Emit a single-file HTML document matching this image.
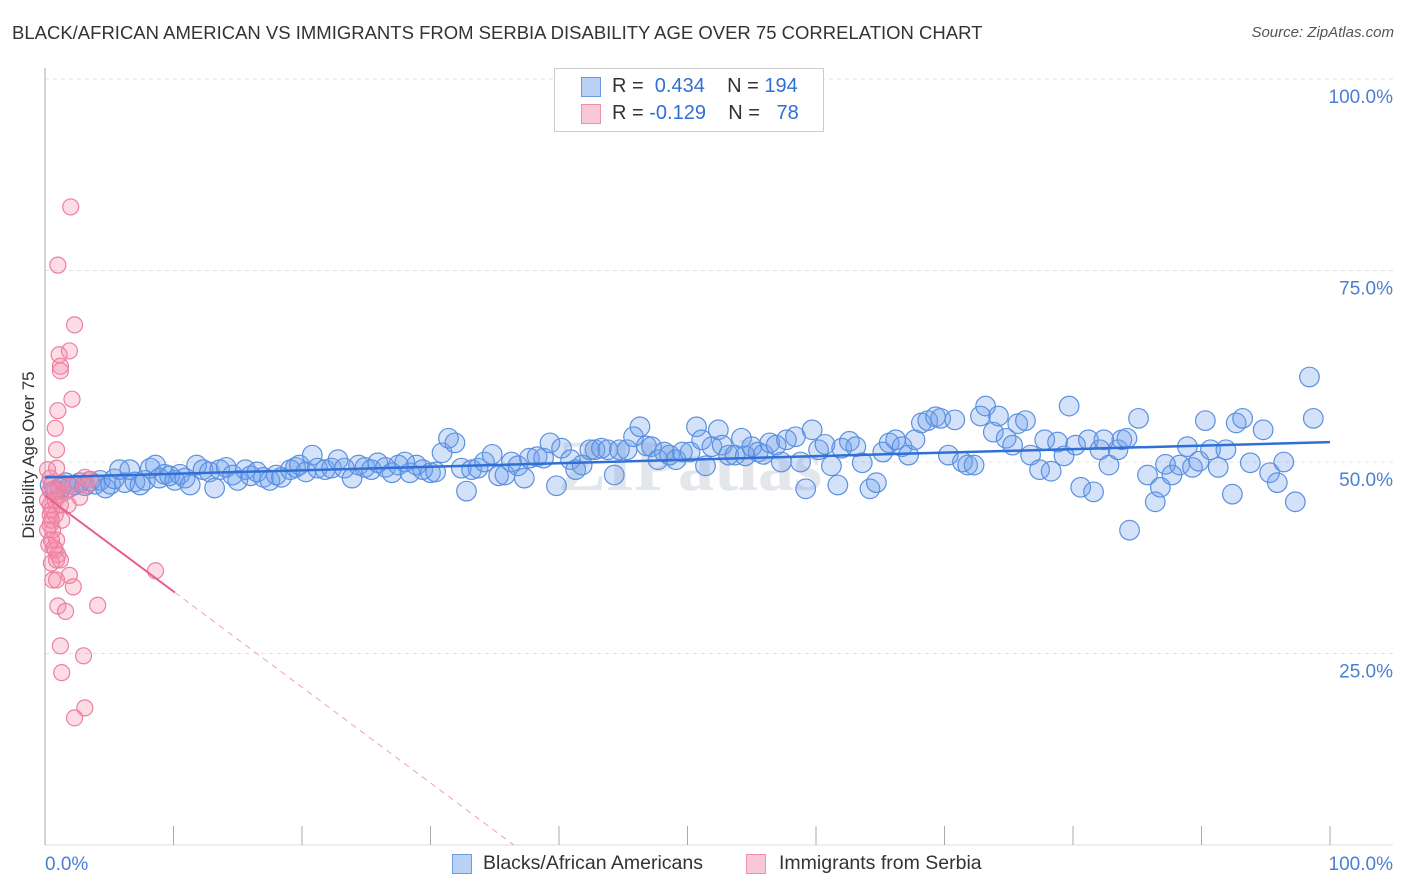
<!DOCTYPE html>
<html><head><meta charset="utf-8">
<style>
body{margin:0;background:#fff;font-family:"Liberation Sans",sans-serif;}
#wrap{position:relative;width:1406px;height:892px;overflow:hidden;}
.t{position:absolute;white-space:nowrap;}
</style></head>
<body>
<div id="wrap">
<div class="t" style="left:12px;top:22px;font-size:18.5px;color:#333;">BLACK/AFRICAN AMERICAN VS IMMIGRANTS FROM SERBIA DISABILITY AGE OVER 75 CORRELATION CHART</div>
<div class="t" style="right:12px;top:24px;font-size:15px;color:#555;font-style:italic;">Source: ZipAtlas.com</div>
<svg id="plot" width="1406" height="892" style="position:absolute;left:0;top:0"></svg>
</div>
<script>
const blueX=[0.4,0.8,1.2,1.6,1.9,2.3,2.7,3.1,3.5,3.9,4.3,4.7,5.1,5.4,5.8,6.2,6.6,7.0,7.4,7.8,8.2,8.6,8.9,9.3,9.7,10.1,10.5,10.9,11.3,11.8,12.3,12.8,13.2,13.6,14.1,14.6,15.0,15.6,16.0,16.5,17.0,17.5,18.0,18.4,19.1,19.5,19.8,20.3,20.8,21.2,21.8,22.3,22.8,23.3,23.9,24.4,24.9,25.4,25.9,26.5,27.0,27.5,28.0,28.4,28.9,29.4,30.0,30.4,30.9,31.4,31.9,32.4,32.8,33.2,33.7,34.2,34.8,35.3,35.8,36.3,36.8,37.3,37.7,38.3,38.8,39.3,39.8,40.2,40.9,41.3,41.8,42.4,42.8,43.3,43.8,44.3,44.7,45.3,45.8,46.3,46.8,47.2,47.7,48.2,48.6,49.1,49.6,50.2,50.7,51.1,51.4,51.9,52.4,52.7,53.2,53.7,54.2,54.5,55.0,55.5,55.9,56.4,56.9,57.3,57.7,58.4,58.8,59.2,59.7,60.2,60.7,61.2,61.7,62.0,62.6,63.1,63.6,64.2,64.7,65.2,65.7,66.2,66.7,67.2,67.7,68.2,68.7,69.3,69.7,70.3,70.8,71.4,71.8,72.3,72.8,73.2,73.8,74.2,74.8,75.3,75.7,76.3,76.7,77.4,77.8,78.3,78.8,79.3,79.7,80.2,80.6,81.2,81.6,82.1,82.4,82.8,83.5,83.8,84.2,84.4,85.1,85.8,86.4,86.8,87.2,87.7,88.3,88.9,89.3,89.8,90.3,90.7,91.3,91.9,92.4,92.7,93.2,93.8,94.8,95.3,95.9,96.4,97.3,98.4,98.7];
const blueY=[47.0,46.3,46.6,47.3,46.7,47.0,47.3,46.9,47.5,47.1,47.6,46.6,47.1,47.8,49.0,47.3,49.0,47.4,47.0,47.6,49.2,49.6,47.9,48.4,48.2,47.6,48.4,47.9,47.0,49.6,49.0,48.7,46.6,49.0,49.3,48.3,47.6,49.0,48.2,48.7,48.0,47.6,48.3,48.0,49.0,49.3,49.6,48.7,50.9,49.2,49.0,49.2,50.3,49.2,47.9,49.6,49.3,49.0,49.9,49.3,48.6,49.6,50.0,48.6,49.6,49.0,48.6,48.7,51.2,53.1,52.5,49.2,46.2,49.0,49.2,50.0,51.0,48.2,48.3,50.0,49.5,47.9,50.5,50.7,50.5,52.5,46.9,51.8,50.3,49.0,49.6,51.6,51.6,51.8,51.6,48.3,51.6,51.6,53.3,54.6,52.1,52.0,50.3,51.3,50.9,50.3,51.3,51.3,54.6,52.9,49.5,52.0,54.2,52.2,50.9,50.9,53.1,50.8,52.0,51.3,51.0,52.5,52.2,50.0,52.9,53.3,50.0,46.5,54.2,51.6,52.3,49.5,47.0,51.8,52.7,52.0,49.9,46.5,47.3,51.3,52.5,52.9,52.0,50.9,52.9,55.1,55.4,55.9,55.7,50.9,55.5,50.0,49.6,49.6,56.0,57.3,53.9,56.0,53.1,52.2,55.0,55.4,50.9,49.0,52.9,48.8,52.6,50.8,57.3,52.2,46.7,52.9,46.1,51.6,52.9,49.6,51.6,52.9,53.1,41.1,55.7,48.3,44.8,46.7,49.7,48.3,49.6,52.0,49.3,50.1,55.4,51.6,49.3,51.6,45.8,55.1,55.7,49.9,54.2,48.6,47.3,50.0,44.8,61.1,55.7];
const pinkX=[2.0,1.0,2.3,1.9,1.1,1.2,1.2,2.1,1.0,0.8,0.9,0.9,0.4,0.5,0.8,1.2,0.2,0.4,0.5,0.8,1.3,0.4,0.6,0.9,0.3,0.8,1.0,1.2,0.5,1.9,0.6,0.9,2.2,1.0,1.6,4.1,1.2,3.0,1.3,3.1,2.3,8.6,3.1,3.5,2.7,3.2,1.6,1.9,1.3,0.2,0.4,0.8,1.2,1.8,0.4,0.5,0.2,0.5,0.7,0.9];
const pinkY=[83.3,75.7,67.9,64.5,64.0,62.5,61.9,58.2,56.7,54.4,51.6,49.2,47.9,47.0,46.3,45.7,45.0,44.4,43.7,43.1,42.4,41.8,41.1,39.8,39.2,38.5,37.9,37.2,36.8,35.2,34.6,34.6,33.7,31.2,30.5,31.3,26.0,24.7,22.5,17.9,16.6,35.8,48.0,47.7,45.4,46.9,46.1,46.9,47.3,49.0,46.3,45.0,44.4,44.4,43.1,42.4,41.1,39.8,38.8,37.2];
const blueTrend=[48.0,52.6];
const pinkTrend={intercept:45.6,slope:-1.25,solidEnd:10.1};
const yTicks=[25,50,75,100];
const xTicks=[0,10,20,30,40,50,60,70,80,90,100];

const svg=document.getElementById('plot');
const NS='http://www.w3.org/2000/svg';
const X0=45,X1=1330,Y0=845,Y1=79;
const sx=v=>X0+(X1-X0)*v/100;
const sy=v=>Y0-(Y0-Y1)*v/100;
function mk(tag,attrs,parent){const e=document.createElementNS(NS,tag);for(const k in attrs)e.setAttribute(k,attrs[k]);(parent||svg).appendChild(e);return e;}

const wm=mk('text',{x:690,y:490,'font-size':72,'fill':'#e3e6eb','text-anchor':'middle','font-family':'Liberation Serif, serif','font-weight':'bold'});
wm.textContent='ZIPatlas';



for(const t of yTicks){
  const g=mk('line',{x1:X0,x2:1393,y1:sy(t),y2:sy(t),stroke:'#dde0e5','stroke-dasharray':'4,4','stroke-width':1});
  
  
  const l=mk('text',{x:1393,y:sy(t)+24,'font-size':19,fill:'#4a7fd4','text-anchor':'end','font-family':'Liberation Sans, sans-serif'});
  l.textContent=t.toFixed(1)+'%';
  
  
}
const ax=mk('line',{x1:X0,x2:X0,y1:68,y2:Y0,stroke:'#aaa','stroke-width':1});


const bx=mk('line',{x1:X0,x2:1393,y1:Y0,y2:Y0,stroke:'#ddd','stroke-width':1});


for(const t of xTicks){
  const tk=mk('line',{x1:sx(t),x2:sx(t),y1:826,y2:Y0,stroke:'#aaa','stroke-width':1});
  
  
}
const xl0=mk('text',{x:45,y:870,'font-size':19,fill:'#4a7fd4','font-family':'Liberation Sans, sans-serif'});
xl0.textContent='0.0%';


const xl1=mk('text',{x:1393,y:870,'font-size':19,fill:'#4a7fd4','text-anchor':'end','font-family':'Liberation Sans, sans-serif'});
xl1.textContent='100.0%';


const yt=mk('text',{x:34,y:455,'font-size':17,fill:'#333','text-anchor':'middle','transform':'rotate(-90 34 455)','font-family':'Liberation Sans, sans-serif'});
yt.textContent='Disability Age Over 75';



blueX.forEach((v,i)=>{
  const c=mk('circle',{cx:sx(v),cy:sy(blueY[i]),r:9.8,fill:'rgba(110,160,235,0.3)',stroke:'#5b90e0','stroke-width':1.2});
  
  
});
pinkX.forEach((v,i)=>{
  const c=mk('circle',{cx:sx(v),cy:sy(pinkY[i]),r:8,fill:'rgba(245,140,170,0.3)',stroke:'#ee7fa0','stroke-width':1.2});
  
  
});
const bt=mk('line',{x1:sx(0),y1:sy(blueTrend[0]),x2:sx(100),y2:sy(blueTrend[1]),stroke:'#2f6fd6','stroke-width':2.5});


const pe=pinkTrend.solidEnd, pz=-pinkTrend.intercept/pinkTrend.slope;
const pt=mk('line',{x1:sx(0),y1:sy(pinkTrend.intercept),x2:sx(pe),y2:sy(pinkTrend.intercept+pinkTrend.slope*pe),stroke:'#e8608a','stroke-width':2});


const pd=mk('line',{x1:sx(pe),y1:sy(pinkTrend.intercept+pinkTrend.slope*pe),x2:sx(pz),y2:sy(0),stroke:'#eea0b8','stroke-width':1,'stroke-dasharray':'6,5'});


</script>
<div class="t" style="left:554px;top:68px;width:268px;height:62px;border:1px solid #ccc;background:#fff;">
  <div style="position:absolute;left:26px;top:8px;width:18px;height:18px;background:#b9d2f3;border:1px solid #6a9be0;"></div>
  <div class="t" style="left:57px;top:6px;font-size:20px;color:#333;">R = <span style="color:#2f6fd6">&nbsp;0.434</span>&nbsp;&nbsp;&nbsp; N = <span style="color:#2f6fd6">194</span></div>
  <div style="position:absolute;left:26px;top:35px;width:18px;height:18px;background:#f9c8d6;border:1px solid #ee8fab;"></div>
  <div class="t" style="left:57px;top:33px;font-size:20px;color:#333;">R = <span style="color:#2f6fd6">-0.129</span>&nbsp;&nbsp;&nbsp; N = <span style="color:#2f6fd6">&nbsp;&nbsp;78</span></div>
</div>
<div style="position:absolute;left:452px;top:854px;width:18px;height:18px;background:#b9d2f3;border:1px solid #6a9be0;"></div>
<div class="t" style="left:483px;top:852px;font-size:19.5px;color:#333;">Blacks/African Americans</div>
<div style="position:absolute;left:746px;top:854px;width:18px;height:18px;background:#f9c8d6;border:1px solid #ee8fab;"></div>
<div class="t" style="left:779px;top:852px;font-size:19.5px;color:#333;">Immigrants from Serbia</div>
</body></html>
